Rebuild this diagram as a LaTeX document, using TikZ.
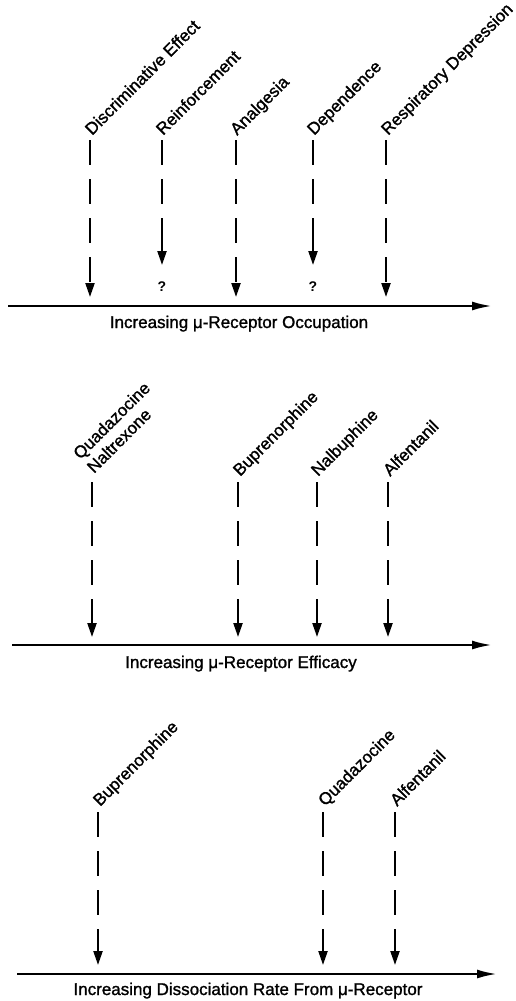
\documentclass[tikz,border=0pt]{standalone}
\usepackage{fontspec}
\setmainfont{Liberation Sans}
\newfontfamily\spesso{Liberation Sans}[FakeBold=1.3]
\usetikzlibrary{arrows.meta}

\tikzset{
  asse/.style={line width=2.3pt, -{Latex[length=20pt,width=9pt]}},
  freccia/.style={line width=2.2pt, dash pattern=on 25pt off 14pt, -{Triangle[length=14pt,width=9pt]}},
  frecciabreve/.style={line width=2.2pt, dash pattern=on 25pt off 14pt on 25pt off 14pt on 40pt off 14pt, -{Triangle[length=14pt,width=9pt]}},
  etichetta/.style={rotate=45, anchor=base west, inner sep=0pt, align=left, font=\spesso\fontsize{17}{19.5}\selectfont},
  titolo/.style={anchor=base, inner sep=0pt, font=\spesso\fontsize{17}{20}\selectfont},
  dubbio/.style={inner sep=0pt, font=\fontsize{14}{16}\selectfont\bfseries}
}

\begin{document}
\begin{tikzpicture}[x=1pt,y=-1pt]
  \useasboundingbox (0,0) rectangle (516,1001);

  % primo asse: occupazione
  \coordinate (A1) at (8,306);
  \coordinate (A2) at (492,306);
  \draw[asse] (A1) -- (A2);
  \node[titolo] (occ) at (239,328) {Increasing μ-Receptor Occupation};

  % effetti
  \coordinate (p1) at (90,140);  \coordinate (q1) at (90,297);
  \coordinate (p2) at (162,140); \coordinate (q2) at (162,265);
  \coordinate (p3) at (236,140); \coordinate (q3) at (236,297);
  \coordinate (p4) at (313,140); \coordinate (q4) at (313,265);
  \coordinate (p5) at (386,140); \coordinate (q5) at (386,297);
  \draw[freccia] (p1) -- (q1);
  \draw[frecciabreve] (p2) -- (q2);
  \draw[freccia] (p3) -- (q3);
  \draw[frecciabreve] (p4) -- (q4);
  \draw[freccia] (p5) -- (q5);
  \node[etichetta] (discr) at (92,136) {Discriminative Effect};
  \node[etichetta] (rinf) at (163,136) {Reinforcement};
  \node[etichetta] (anal) at (237,136) {Analgesia};
  \node[etichetta] (dip) at (314,136) {Dependence};
  \node[etichetta] (resp) at (388,136) {Respiratory Depression};
  \node[dubbio] (qr) at (162,287) {?};
  \node[dubbio] (qd) at (313,287) {?};

  % secondo asse: efficacia
  \coordinate (B1) at (12,645);
  \coordinate (B2) at (492,645);
  \draw[asse] (B1) -- (B2);
  \node[titolo] (eff) at (241,668) {Increasing μ-Receptor Efficacy};

  \coordinate (r1) at (92,482);  \coordinate (s1) at (92,637);
  \coordinate (r2) at (238,482); \coordinate (s2) at (238,637);
  \coordinate (r3) at (317,482); \coordinate (s3) at (317,637);
  \coordinate (r4) at (388,482); \coordinate (s4) at (388,637);
  \draw[freccia] (r1) -- (s1);
  \draw[freccia] (r2) -- (s2);
  \draw[freccia] (r3) -- (s3);
  \draw[freccia] (r4) -- (s4);
  \node[etichetta] (quanal) at (94,474) {Quadazocine\\Naltrexone};
  \node[etichetta] (bup) at (240,477) {Buprenorphine};
  \node[etichetta] (nalb) at (318,477) {Nalbuphine};
  \node[etichetta] (alf) at (390,477) {Alfentanil};

  % terzo asse: dissociazione
  \coordinate (C1) at (17,974);
  \coordinate (C2) at (497,974);
  \draw[asse] (C1) -- (C2);
  \node[titolo] (diss) at (248,995) {Increasing Dissociation Rate From μ-Receptor};

  \coordinate (t1) at (98,812);  \coordinate (u1) at (98,965);
  \coordinate (t2) at (323,812); \coordinate (u2) at (323,965);
  \coordinate (t3) at (395,812); \coordinate (u3) at (395,965);
  \draw[freccia] (t1) -- (u1);
  \draw[freccia] (t2) -- (u2);
  \draw[freccia] (t3) -- (u3);
  \node[etichetta] (bup2) at (100,807) {Buprenorphine};
  \node[etichetta] (quad2) at (325,807) {Quadazocine};
  \node[etichetta] (alf2) at (397,807) {Alfentanil};
\end{tikzpicture}
\end{document}
